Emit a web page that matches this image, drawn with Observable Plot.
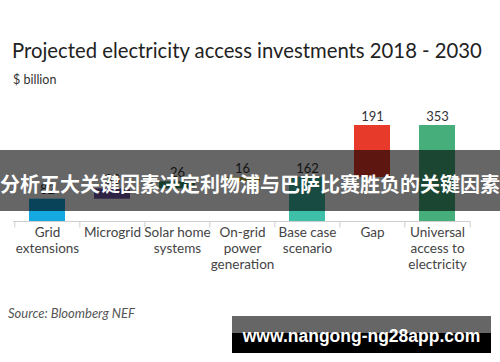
<!DOCTYPE html>
<html><head><meta charset="utf-8">
<script src="https://cdn.jsdelivr.net/npm/d3@7"></script>
<script src="https://cdn.jsdelivr.net/npm/@observablehq/plot@0.6"></script>
<style>
body{margin:0;background:#fff;}
#wrap{position:relative;width:500px;height:362px;overflow:hidden;font-family:Lato,"Open Sans",sans-serif;}
#title{position:absolute;left:12px;top:38px;font-size:20.3px;line-height:24px;color:#222;white-space:nowrap;}
#sub{position:absolute;left:13px;top:72px;font-size:12.5px;line-height:16px;color:#333;white-space:nowrap;}
#chart{position:absolute;left:0;top:95px;}
#source{position:absolute;left:8px;top:305px;font-size:13px;line-height:16px;font-style:italic;color:#555;white-space:nowrap;}
#banner{position:absolute;left:0;top:150px;width:500px;height:61px;background:rgba(0,0,0,0.6);color:#fff;font-family:"Noto Sans CJK SC",sans-serif;font-weight:700;font-size:20px;text-align:center;line-height:61px;padding-top:3px;box-sizing:border-box;white-space:nowrap;}
#wm{position:absolute;left:232px;top:316px;width:259px;height:37px;background:linear-gradient(#666 0,#666 17px,#000 17px,#000 100%);color:#fff;font-family:"Liberation Sans",Arial,sans-serif;font-weight:700;font-size:17.5px;text-align:center;line-height:40px;white-space:nowrap;}
</style></head>
<body>
<div id="wrap">
  <div id="title">Projected electricity access investments 2018 - 2030</div>
  <div id="sub">$ billion</div>
  <div id="chart"></div>
  <div id="source">Source: Bloomberg NEF</div>
  <div id="banner">分析五大关键因素决定利物浦与巴萨比赛胜负的关键因素</div>
  <div id="wm">www.nangong-ng28app.com</div>
</div>
<script>
const categories = ["Grid extensions", "Microgrid", "Solar home systems", "On-grid power generation", "Base case scenario", "Gap", "Universal access to electricity"];
const tickLabels = ["Grid\nextensions", "Microgrid", "Solar home\nsystems", "On-grid\npower\ngeneration", "Base case\nscenario", "Gap", "Universal\naccess to\nelectricity"];
const values = [82, 38, 26, 16, 162, 191, 353];
const kinds = ["step", "step", "step", "step", "total", "step", "total"];
const colors = ["#14a9e0", "#7355ac", "#3a9c6c", "#c2b23e", "#3dbfa8", "#e83a2a", "#45ae7a"];

let run = 0;
const rows = categories.map((c, i) => {
  let y1, y2;
  if (kinds[i] === "total") { y1 = 0; y2 = values[i]; }
  else { y1 = run; y2 = run + values[i]; }
  run = y2;
  return {cat: c, value: values[i], y1, y2, color: colors[i]};
});

const W = 500, ML = 13, MR = 30;
const step = (W - ML - MR) / categories.length;
const labelOf = Object.fromEntries(categories.map((c, i) => [c, tickLabels[i]]));

const chart = Plot.plot({
  width: W, height: 190,
  marginTop: 30, marginBottom: 64, marginLeft: ML, marginRight: MR,
  style: {fontFamily: "Lato, 'Open Sans', sans-serif", background: "transparent"},
  x: {domain: categories, paddingInner: 0.45, paddingOuter: 0.225, axis: null, label: null},
  y: {domain: [0, 353], axis: null},
  marks: [
    Plot.barY(rows, {x: "cat", y1: "y1", y2: "y2", fill: "color"}),
    Plot.ruleY([0], {stroke: "#cfcfcf"}),
    Plot.ruleX(categories, {x: d => d, dx: -step / 2, y1: 0, y2: -24, stroke: "#cfcfcf"}),
    Plot.ruleX([categories[categories.length - 1]], {x: d => d, dx: step / 2, y1: 0, y2: -24, stroke: "#cfcfcf"}),
    Plot.text(rows, {x: "cat", y: "y2", text: d => String(d.value), dy: -9, fontSize: 13, fill: "#333"}),
    Plot.axisX({domain: categories, label: null, tickSize: 0, tickPadding: 4, tickFormat: d => labelOf[d], fontSize: 13.5, lineHeight: 1.18, fill: "#444"})
  ]
});
document.getElementById("chart").appendChild(chart);
</script>
</body></html>
